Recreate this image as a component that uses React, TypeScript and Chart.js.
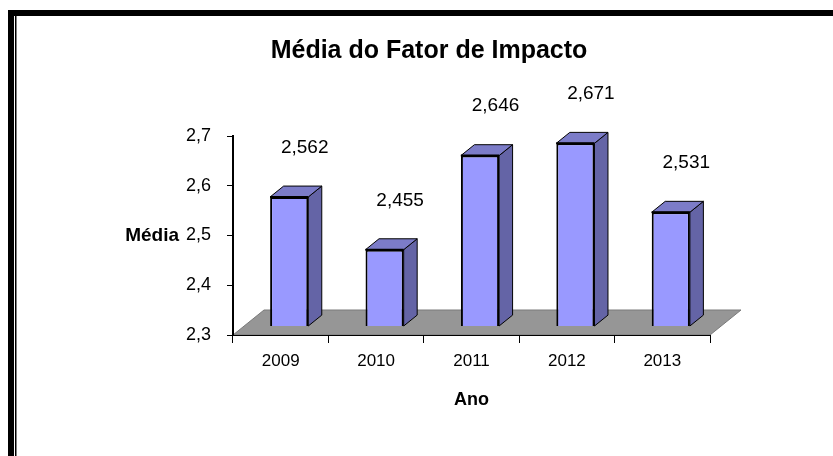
import React, { useEffect, useRef } from 'react';
import { Chart, registerables } from 'chart.js';

Chart.register(...registerables);

// ---- data ----
const categories: string[] = ['2009', '2010', '2011', '2012', '2013'];
const values: number[] = [2.562, 2.455, 2.646, 2.671, 2.531];
const yMin = 2.3;
const yMax = 2.7;
const yStep = 0.1;
const chartTitle = 'Média do Fator de Impacto';
const yTitle = 'Média';
const xTitle = 'Ano';

// ---- styles ----
const SANS = "'Liberation Sans', Arial, sans-serif";
const FRONT = '#9999FF';
const SIDE = '#6464A6';
const TOP = '#7C7CC8';
const FLOOR = '#969696';

const FLOOR_DX = 31;
const FLOOR_DY = -25;
const BAR_SHIFT_X = 8.5;
const BAR_SHIFT_Y = -9;
const FRONT_SCALE = 0.99;
const BAR_DX = 13.5;
const BAR_DY = -11;
const LABEL_DX = 24;
const LABEL_DY = -57;

const fmt = (v: number, d: number) => v.toFixed(d).replace('.', ',');

const bars3d = {
  id: 'bars3d',
  beforeDraw(chart: any) {
    const ctx = chart.ctx;
    ctx.save();
    ctx.fillStyle = '#fff';
    ctx.fillRect(0, 0, chart.width, chart.height);
    ctx.fillStyle = '#000';
    ctx.fillRect(8, 10, chart.width - 8, 6);
    ctx.fillRect(8, 10, 6, chart.height - 10);
    ctx.fillRect(15, 16, 1.5, chart.height - 16);
    ctx.restore();
  },
  afterDraw(chart: any) {
    const { ctx } = chart;
    const yScale = chart.scales.y;
    ctx.save();
    ctx.fillStyle = '#000';
    ctx.font = `bold 19px ${SANS}`;
    ctx.textAlign = 'right';
    ctx.textBaseline = 'middle';
    ctx.fillText(yTitle, 179, yScale.getPixelForValue(2.5));
    ctx.restore();
  },
  beforeDatasetsDraw(chart: any) {
    const { ctx, chartArea: a } = chart;
    ctx.save();
    ctx.beginPath();
    ctx.moveTo(a.left, a.bottom);
    ctx.lineTo(a.left + FLOOR_DX, a.bottom + FLOOR_DY);
    ctx.lineTo(a.right + FLOOR_DX, a.bottom + FLOOR_DY);
    ctx.lineTo(a.right, a.bottom);
    ctx.closePath();
    ctx.fillStyle = FLOOR;
    ctx.fill();
    ctx.strokeStyle = '#7a7a7a';
    ctx.lineWidth = 1;
    ctx.stroke();
    ctx.restore();
    ctx.save();
    ctx.translate(BAR_SHIFT_X, a.bottom + BAR_SHIFT_Y);
    ctx.scale(1, FRONT_SCALE);
    ctx.translate(0, -a.bottom);
  },
  afterDatasetsDraw(chart: any) {
    const { ctx, chartArea: a } = chart;
    const meta = chart.getDatasetMeta(0);
    meta.data.forEach((el: any) => {
      const { x, y, base, width } = el.getProps(['x', 'y', 'base', 'width'], true);
      const b = Math.min(base, a.bottom);
      const l = x - width / 2;
      const r = x + width / 2;
      ctx.lineWidth = 1;
      ctx.strokeStyle = '#000';
      // side face
      ctx.beginPath();
      ctx.moveTo(r, y);
      ctx.lineTo(r + BAR_DX, y + BAR_DY);
      ctx.lineTo(r + BAR_DX, b + BAR_DY);
      ctx.lineTo(r, b);
      ctx.closePath();
      ctx.fillStyle = SIDE;
      ctx.fill();
      ctx.stroke();
      // top face
      ctx.beginPath();
      ctx.moveTo(l, y);
      ctx.lineTo(l + BAR_DX, y + BAR_DY);
      ctx.lineTo(r + BAR_DX, y + BAR_DY);
      ctx.lineTo(r, y);
      ctx.closePath();
      ctx.fillStyle = TOP;
      ctx.fill();
      ctx.stroke();
      // front top edge (thicker in reference)
      ctx.beginPath();
      ctx.moveTo(l, y);
      ctx.lineTo(r, y);
      ctx.lineWidth = 2;
      ctx.stroke();
    });
    ctx.restore();

    // data labels
    const yScale = chart.scales.y;
    ctx.save();
    ctx.fillStyle = '#000';
    ctx.font = `19px ${SANS}`;
    ctx.textAlign = 'center';
    ctx.textBaseline = 'middle';
    meta.data.forEach((el: any, i: number) => {
      const v = values[i];
      ctx.fillText(fmt(v, 3), el.x + LABEL_DX, yScale.getPixelForValue(v) + LABEL_DY);
    });
    ctx.restore();
  },
};

export default function App() {
  const ref = useRef<HTMLCanvasElement | null>(null);
  useEffect(() => {
    if (!ref.current) return;
    Chart.defaults.font.family = SANS;
    const chart = new Chart(ref.current, {
      type: 'bar',
      data: {
        labels: categories,
        datasets: [
          {
            data: values,
            backgroundColor: FRONT,
            borderColor: '#000',
            borderWidth: 2,
            barPercentage: 0.4,
            categoryPercentage: 1,
          },
        ],
      },
      options: {
        responsive: false,
        animation: false,
        devicePixelRatio: 1,
        layout: { padding: { left: 25, right: 0, top: 0, bottom: 0 } },
        plugins: {
          legend: { display: false },
          tooltip: { enabled: false },
          title: {
            display: true,
            text: chartTitle,
            color: '#000',
            font: { size: 25, weight: 'bold', family: SANS },
            padding: { top: 36, bottom: 70 },
          },
        },
        scales: {
          x: {
            grid: {
              display: true,
              drawOnChartArea: false,
              drawTicks: true,
              tickLength: 8,
              color: '#000',
              offset: true,
            },
            border: { display: true, color: '#000', width: 1, z: 1 },
            ticks: {
              color: '#000',
              font: { family: SANS, size: 17 },
              padding: 8,
              maxRotation: 0,
              autoSkip: false,
            },
            title: {
              display: true,
              text: xTitle,
              color: '#000',
              font: { size: 18, weight: 'bold', family: SANS },
              padding: { top: 0, bottom: 45 },
            },
            afterFit: (s: any) => {
              s.height = 121;
            },
          },
          y: {
            min: yMin,
            max: yMax,
            grid: { drawOnChartArea: false, tickLength: 6, color: '#000' },
            border: { display: true, color: '#000', width: 2, z: 1 },
            ticks: {
              stepSize: yStep,
              padding: 16,
              color: '#000',
              font: { size: 18, family: SANS },
              callback: (v: any) => fmt(Number(v), 1),
            },
            afterFit: (s: any) => {
              s.width = 208;
            },
          },
          yR: {
            position: 'right',
            display: true,
            grid: { display: false },
            border: { display: false },
            ticks: { display: false },
            afterFit: (s: any) => {
              s.width = 123;
            },
          },
        },
      } as any,
      plugins: [bars3d],
    });
    return () => chart.destroy();
  }, []);
  return (
    <canvas
      ref={ref}
      width={833}
      height={456}
      style={{ position: 'absolute', left: 0, top: 0, display: 'block', width: 833, height: 456 }}
    />
  );
}
